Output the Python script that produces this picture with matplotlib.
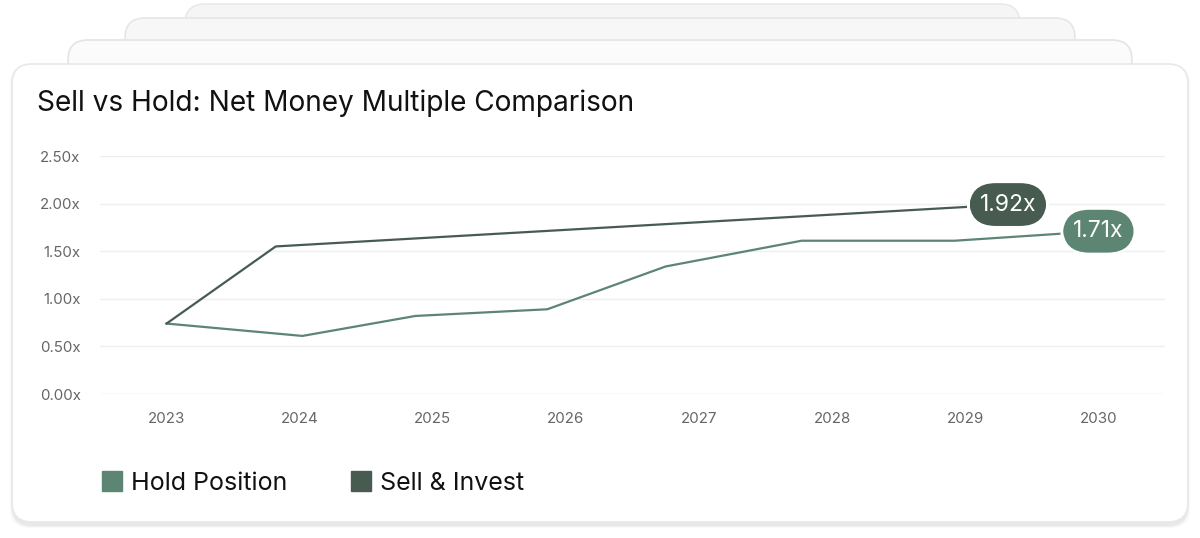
import matplotlib
matplotlib.use("Agg")
import matplotlib.pyplot as plt
from matplotlib.patches import FancyBboxPatch
from matplotlib.lines import Line2D
from matplotlib.transforms import IdentityTransform

plt.rcParams['font.family'] = ['Inter', 'DejaVu Sans']

# ── data ──────────────────────────────────────────────────────────────
years = [2023, 2024, 2025, 2026, 2027, 2028, 2029, 2030]

hold_t = [2023.0, 2024.02, 2024.87, 2025.86, 2026.75, 2027.77, 2028.92, 2030.0]
hold_v = [0.74, 0.61, 0.82, 0.89, 1.34, 1.61, 1.61, 1.71]

sell_t = [2023.0, 2023.82, 2029.32]
sell_v = [0.74, 1.55, 1.99]

series_names = ["Hold Position", "Sell & Invest"]
end_labels = ["1.71x", "1.92x"]
y_ticks = [0.0, 0.5, 1.0, 1.5, 2.0, 2.5]

HOLD_C = "#5c8574"
SELL_C = "#475b51"

W, H = 1200, 538
fig = plt.figure(figsize=(W / 100, H / 100), dpi=100)
fig.patch.set_facecolor("white")


def card(x0, y_top, x1, y_bot, fc, ec, z, r=20):
    # pixel coords measured from the top of the picture
    p = FancyBboxPatch((x0, H - y_bot), x1 - x0, y_bot - y_top,
                       boxstyle=f"round,pad=0,rounding_size={r}",
                       transform=IdentityTransform(), fc=fc, ec=ec, lw=1.2,
                       zorder=z)
    fig.patches.append(p)


# stacked cards behind
card(185, 4, 1020, 300, "#f5f5f5", "#e9e9e9", -14)
card(125, 18, 1075, 300, "#f7f7f7", "#e6e6e6", -13)
card(68, 40, 1132, 300, "#fbfbfb", "#e4e4e4", -12)
# soft shadow + main card
for i, a in enumerate([0.035, 0.03, 0.025]):
    card(12 - i, 64 + 2 - i, 1188 + i, 522 + 4 + i, (0, 0, 0, a), "none", -11 + i * 0.01)
card(12, 64, 1188, 522, "white", "#e8e8e8", -10)

fig.text(37 / W, 1 - 103 / H, "Sell vs Hold: Net Money Multiple Comparison",
         fontsize=20.2, color="#111111", va="center", ha="left")

# ── axes ──────────────────────────────────────────────────────────────
ax = fig.add_axes([100 / W, (H - 394) / H, (1165 - 100) / W, (394 - 156) / H])
ax.set_facecolor("none")
ax.set_xlim(years[0] - 0.5, years[-1] + 0.5)
ax.set_ylim(0, 2.5)
for s in ax.spines.values():
    s.set_visible(False)
ax.set_yticks(y_ticks)
ax.set_yticklabels([f"{v:.2f}x" for v in y_ticks])
ax.set_xticks(years)
ax.set_xticklabels([str(y) for y in years])
ax.tick_params(length=0, labelsize=10.8, labelcolor="#666666")
ax.tick_params(axis="y", pad=14)
ax.tick_params(axis="x", pad=13)
for v in y_ticks:
    ax.axhline(v, color="#e2e2e2" if v == 0 else "#efefef", lw=1, zorder=0)

ax.plot(hold_t, hold_v, color=HOLD_C, lw=1.6, zorder=3, clip_on=False)
ax.plot(sell_t, sell_v, color=SELL_C, lw=1.6, zorder=3, clip_on=False)

# end-point pills
for t, v, lab, c in [(hold_t[-1], hold_v[-1], end_labels[0], HOLD_C),
                     (sell_t[-1], sell_v[-1], end_labels[1], SELL_C)]:
    ax.text(t, v, lab, color="white", fontsize=16.5, ha="center", va="center",
            zorder=5, clip_on=False,
            bbox=dict(boxstyle="round,pad=0.5,rounding_size=1.2",
                      fc=c, ec="white", lw=1.5))

# ── legend ────────────────────────────────────────────────────────────
handles = [Line2D([], [], ls="none", marker="s", markersize=14.5,
                  markerfacecolor=c, markeredgecolor=c)
           for c in (HOLD_C, SELL_C)]
fig.legend(handles, series_names, loc="center left",
           bbox_to_anchor=(80 / W, 1 - 483 / H), ncol=2, frameon=False,
           fontsize=18, handlelength=0.75, handletextpad=0.4,
           columnspacing=2.55, labelcolor="#111111")

fig.savefig("out.png", dpi=100)
